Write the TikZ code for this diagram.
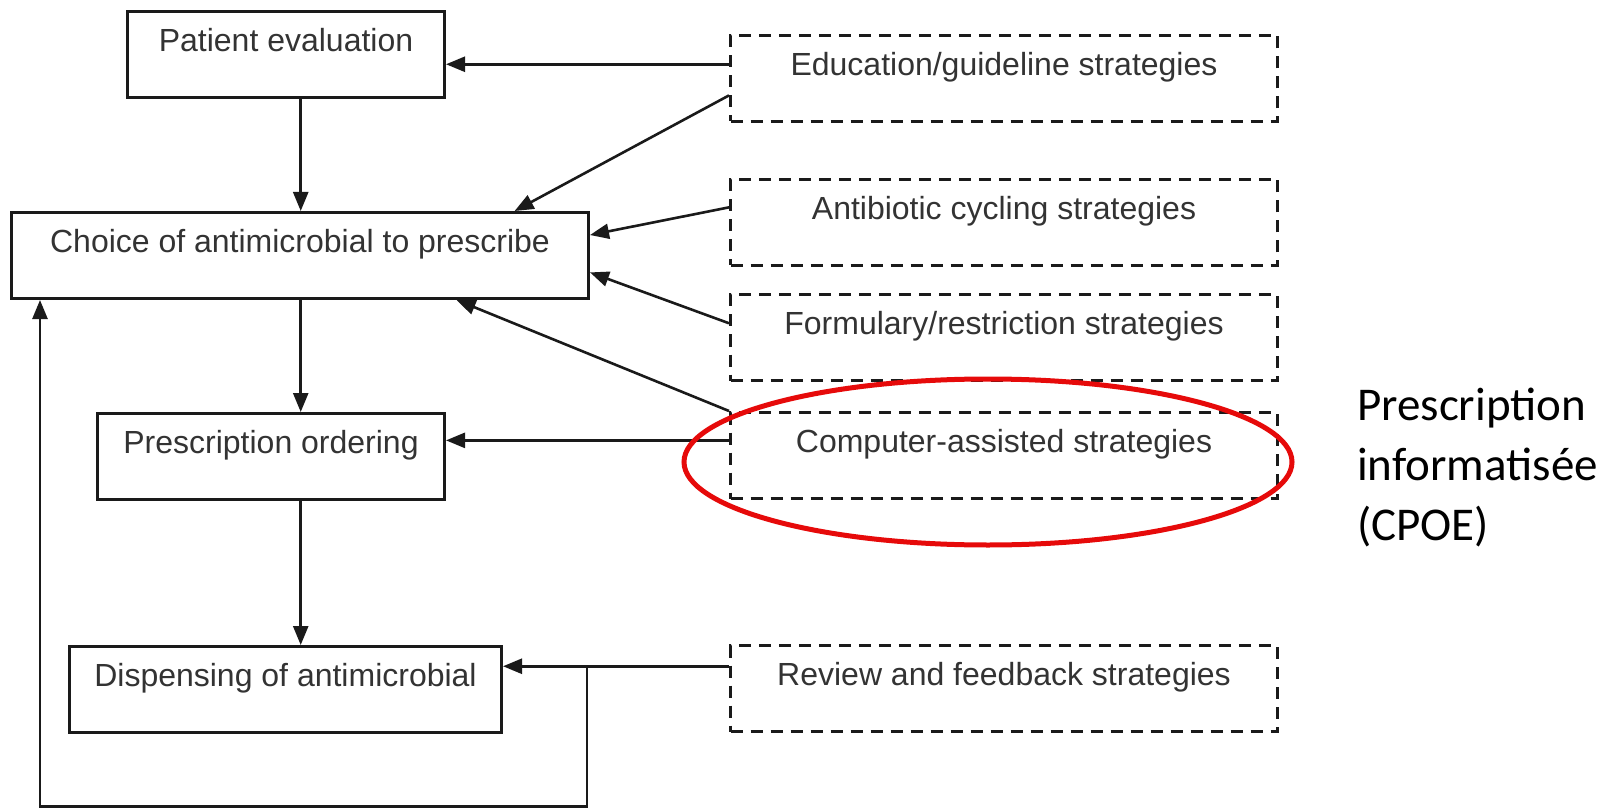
\documentclass[tikz,border=0pt]{standalone}
\usepackage{fontspec}
\setmainfont{Liberation Sans}
\newfontfamily\notefont{Carlito}
\usetikzlibrary{arrows.meta,calc,shapes.geometric}

\definecolor{ink}{HTML}{1A1A1A}
\definecolor{labelgray}{HTML}{333333}
\definecolor{markred}{HTML}{E60A0A}

\begin{document}
\begin{tikzpicture}[x=1pt,y=-1pt,
  stage/.style={draw=ink, line width=3pt, minimum height=86pt, inner sep=0pt,
    text height=40pt, text depth=46pt, anchor=north west,
    font=\fontsize{32}{32}\selectfont, text=labelgray},
  strategy/.style={stage, dashed, dash pattern=on 12pt off 8pt, minimum width=547pt},
  flow/.style={draw=ink, line width=2.6pt, -{Triangle[length=19pt,width=15pt]}},
  plain/.style={draw=ink, line width=2.6pt}]

\useasboundingbox (0,0) rectangle (1614,810);

% process stages
\node[stage, minimum width=317pt] (pat)    at (126,10)  {Patient evaluation};
\node[stage, minimum width=577pt] (choice) at (10,211)  {Choice of antimicrobial to prescribe};
\node[stage, minimum width=347pt] (order)  at (96,412)  {Prescription ordering};
\node[stage, minimum width=432pt] (disp)   at (68,645)  {Dispensing of antimicrobial};

% intervention strategies
\node[strategy] (edu)  at (729,34)  {Education/guideline strategies};
\node[strategy] (cyc)  at (729,178) {Antibiotic cycling strategies};
\node[strategy] (form) at (729,293) {Formulary/restriction strategies};
\node[strategy] (comp) at (729,411) {Computer-assisted strategies};
\node[strategy] (rev)  at (729,644) {Review and feedback strategies};

% attachment points
\coordinate (spine) at ($(pat.south west)!0.546!(pat.south east)$);
\coordinate (eduA)  at ($(edu.north west)!0.34!(edu.south west)$);
\coordinate (eduB)  at ($(edu.north west)!0.69!(edu.south west)$);
\coordinate (cycA)  at ($(cyc.north west)!0.33!(cyc.south west)$);
\coordinate (formA) at ($(form.north west)!0.34!(form.south west)$);
\coordinate (compA) at ($(comp.north west)!0.33!(comp.south west)$);
\coordinate (revA)  at ($(rev.north west)!0.25!(rev.south west)$);
\coordinate (chTop) at ($(choice.north west)!0.87!(choice.north east)$);
\coordinate (chR1)  at ($(choice.north east)!0.27!(choice.south east)$);
\coordinate (chR2)  at ($(choice.north east)!0.69!(choice.south east)$);
\coordinate (chBot) at ($(choice.south west)!0.77!(choice.south east)$);

% main sequence
\draw[flow] (spine) -- (spine |- choice.north);
\draw[flow] (spine |- choice.south) -- (spine |- order.north);
\draw[flow] (spine |- order.south) -- (spine |- disp.north);

% strategies acting on the stages
\draw[flow] (eduA) -- (eduA -| pat.east);
\draw[flow] (eduB) -- (chTop);
\draw[flow] (cycA) -- (chR1);
\draw[flow] (formA) -- (chR2);
\draw[flow] (comp.north west) -- (chBot);
\draw[flow] (compA) -- (compA -| order.east);
\draw[flow] (revA) -- (revA -| disp.east);

% feedback loop back to the choice
\coordinate (fbtop) at ($(revA)+(-142,0)$);
\coordinate (fbbot) at ($(fbtop)+(0,140)$);
\coordinate (fbend) at ($(choice.south west)+(30,0)$);
\draw[flow] (fbtop) -- (fbbot) -| (fbend);

% highlight and note
\node[ellipse, draw=markred, line width=5pt, minimum width=608pt, minimum height=166pt, inner sep=0pt] (hl) at (988,462) {};
\node[font=\notefont\fontsize{47}{60}\selectfont, align=left, anchor=north west, inner sep=0pt, text=black] (cpoe) at (1357,388) {Prescription\\informatisée\\(CPOE)};

\end{tikzpicture}
\end{document}
